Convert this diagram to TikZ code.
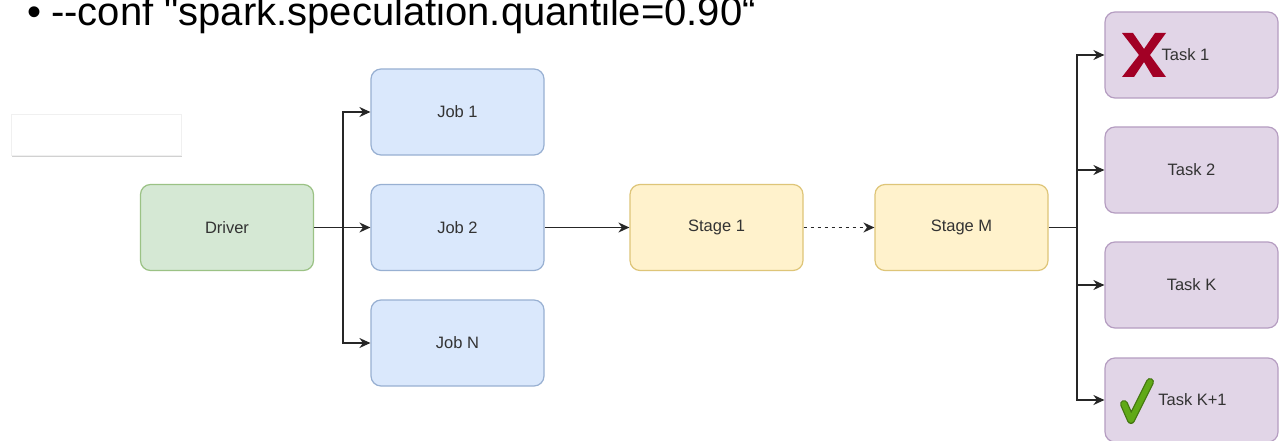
\documentclass[tikz,border=0pt]{standalone}
\usepackage{fontspec}
\newfontfamily\arialf{Liberation Sans}
\usetikzlibrary{arrows.meta}
\definecolor{drvfill}{HTML}{D5E8D4}\definecolor{drvline}{HTML}{82B366}
\definecolor{jobfill}{HTML}{DAE8FC}\definecolor{jobline}{HTML}{6C8EBF}
\definecolor{stgfill}{HTML}{FFF2CC}\definecolor{stgline}{HTML}{D6B656}
\definecolor{tskfill}{HTML}{E1D5E7}\definecolor{tskline}{HTML}{9673A6}
\definecolor{txt}{HTML}{333333}
\definecolor{failred}{HTML}{A20025}
\definecolor{okgreen}{HTML}{60A917}
\begin{document}
\begin{tikzpicture}[x=1pt,y=-1pt,
  box/.style={rounded corners=10pt,line width=1.2pt,minimum width=173pt,minimum height=86pt,
    inner sep=0pt,font=\arialf\fontsize{16.5}{19}\selectfont,text=txt},
  drv/.style={box,fill=drvfill,draw=drvline!80},
  job/.style={box,fill=jobfill,draw=jobline!70},
  stg/.style={box,fill=stgfill,draw=stgline!80},
  tsk/.style={box,fill=tskfill,draw=tskline!70},
  conn/.style={line width=1.4pt,draw=black!85,-{Stealth[length=11pt,width=10pt]}},
  dotconn/.style={conn,dash pattern=on 3.5pt off 3.5pt}]
\useasboundingbox (0,0) rectangle (1284,441);
\fill[white] (0,0) rectangle (1284,441);

% heading line
\node[anchor=base west,inner sep=0pt,font=\arialf\fontsize{40}{46}\selectfont] (title) at (27,26)
  {\textbullet\hspace{10pt}{-}{-}conf "spark.speculation.quantile=0.90“};

% empty white card
\fill[black!18] (12,116) rectangle (182,157);
\fill[white,draw=black!6] (11,114) rectangle (181,155);

% boxes
\node[drv] (driver) at (227,227.5) {Driver};
\node[job] (job1) at (457.5,112) {Job 1};
\node[job] (job2) at (457.5,227.5) {Job 2};
\node[job] (jobn) at (457.5,343) {Job N};
\node[stg] (stage1) at (716.5,227.5) {Stage 1};
\node[stg] (stagem) at (961.5,227.5) {Stage M};
\node[tsk] (task1) at (1191.5,55) {\hspace*{-12pt}Task 1};
\node[tsk] (task2) at (1191.5,170) {Task 2};
\node[tsk] (taskk) at (1191.5,285) {Task K};
\node[tsk,minimum height=84pt] (taskk1) at (1191.5,400) {\hspace*{2pt}Task K+1};

% status marks
\fill[failred] (1122,33) -- (1133,33) -- (1144,49) -- (1155,33) -- (1166,33) -- (1150,55)
  -- (1166,77) -- (1153,77) -- (1144,62) -- (1134,77) -- (1122,77) -- (1139,55) -- cycle;
\draw[okgreen!70!black,line width=8pt,line cap=round,line join=round]
  (1124,404) -- (1131,420) -- (1150,382);
\draw[okgreen,line width=5.5pt,line cap=round,line join=round]
  (1124,404) -- (1131,420) -- (1150,382);

% connectors
\coordinate (dsplit) at (343,227.5);
\draw[line width=1.4pt,draw=black!85] (driver.east) -- (dsplit);
\draw[conn] (dsplit) |- (job1.west);
\draw[conn] (dsplit) -- (job2.west);
\draw[conn] (dsplit) |- (jobn.west);
\draw[conn] (job2.east) -- (stage1.west);
\draw[dotconn] (stage1.east) -- (stagem.west);
\coordinate (tsplit) at (1077,227.5);
\draw[line width=1.4pt,draw=black!85] (stagem.east) -- (tsplit);
\draw[conn] (tsplit) |- (task1.west);
\draw[conn] (tsplit) |- (task2.west);
\draw[conn] (tsplit) |- (taskk.west);
\draw[conn] (tsplit) |- (taskk1.west);
\end{tikzpicture}
\end{document}
